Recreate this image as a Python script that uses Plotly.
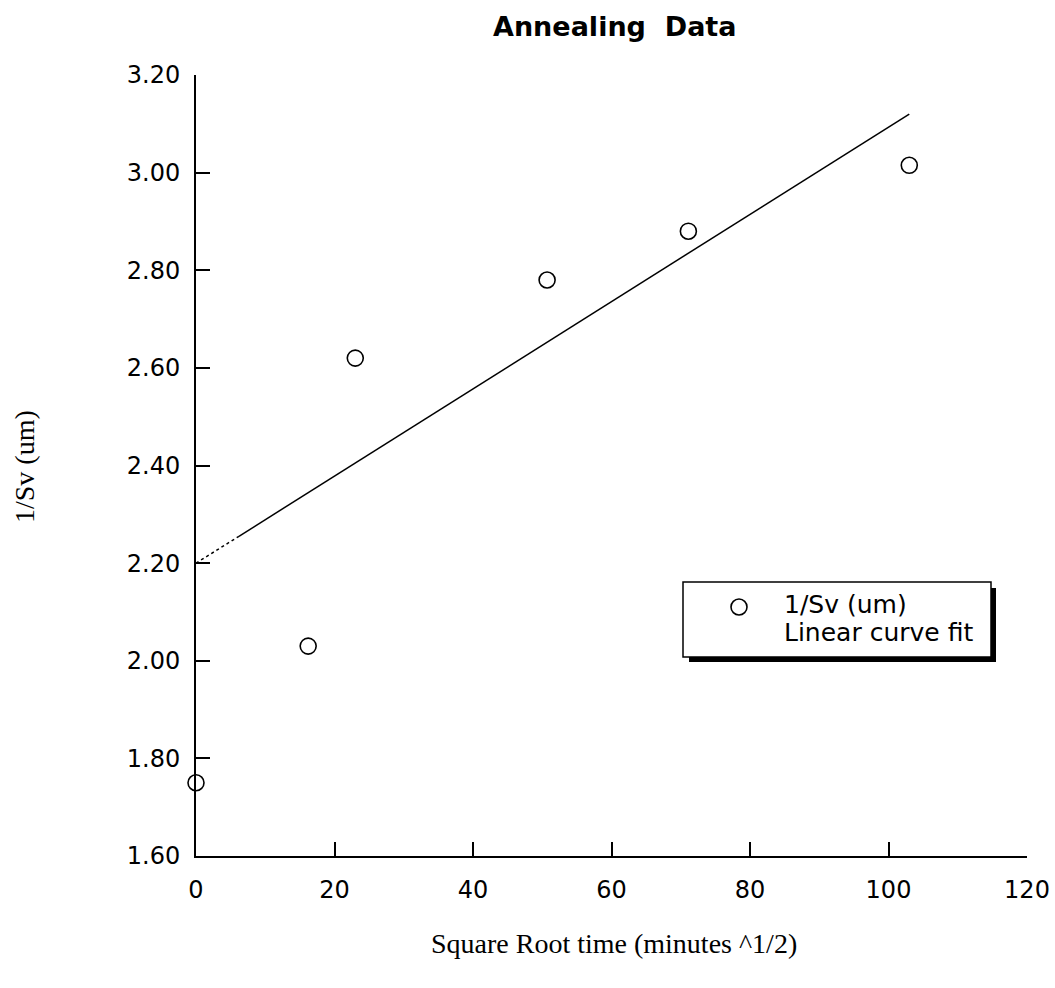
import plotly.graph_objects as go

# ---- data ----
sqrt_time = [0, 16.2, 23.0, 50.7, 71.1, 103.0]
inv_sv = [1.75, 2.03, 2.62, 2.78, 2.88, 3.015]

# linear curve fit line
fit_dot_x = [0, 6.2]
fit_dot_y = [2.20, 2.255]
fit_x = [6.2, 103.0]
fit_y = [2.255, 3.12]

x_ticks = [0, 20, 40, 60, 80, 100, 120]
y_ticks = [1.60, 1.80, 2.00, 2.20, 2.40, 2.60, 2.80, 3.00, 3.20]

title_text = "Annealing  Data"
x_title = "Square Root time (minutes ^1/2)"
y_title = "1/Sv (um)"
legend_labels = ["1/Sv (um)", "Linear curve fit"]

W, H = 1055, 988
L, R, T, B = 196, 28, 75, 132
PW, PH = W - L - R, H - T - B


def px(x):
    return (x - L) / PW


def py(y):
    return (H - B - y) / PH


SANS = "DejaVu Sans"
SERIF = "Liberation Serif"

fig = go.Figure()
fig.add_trace(go.Scatter(x=fit_dot_x, y=fit_dot_y, mode="lines",
                         line=dict(color="black", width=1.5, dash="dot"),
                         showlegend=False, hoverinfo="skip"))
fig.add_trace(go.Scatter(x=fit_x, y=fit_y, mode="lines",
                         line=dict(color="black", width=1.5),
                         showlegend=False, name=legend_labels[1]))
fig.add_trace(go.Scatter(x=sqrt_time, y=inv_sv, mode="markers",
                         marker=dict(symbol="circle-open", size=16,
                                     color="black", line=dict(width=1.6)),
                         cliponaxis=False, showlegend=False,
                         name=legend_labels[0]))

axis_common = dict(showgrid=False, zeroline=False, showline=True,
                   linecolor="black", linewidth=2, ticks="inside",
                   ticklen=14, tickwidth=1.5, tickcolor="black",
                   tickfont=dict(family=SANS, size=24, color="black"),
                   mirror=False, automargin=False)

fig.update_xaxes(range=[0, 120], tickvals=x_ticks,
                 ticktext=[str(v) for v in x_ticks],
                 ticklabelstandoff=11, **axis_common)
fig.update_yaxes(range=[1.6, 3.2], tickvals=y_ticks,
                 ticktext=[f"{v:.2f}" for v in y_ticks],
                 ticklabelstandoff=9, **axis_common)

shapes = [
    # legend shadow
    dict(type="rect", xref="paper", yref="paper",
         x0=px(689), x1=px(996), y0=py(662), y1=py(588),
         fillcolor="black", line=dict(width=0), layer="above"),
    # legend box
    dict(type="rect", xref="paper", yref="paper",
         x0=px(683), x1=px(991), y0=py(657), y1=py(582),
         fillcolor="white", line=dict(color="black", width=1.5), layer="above"),
    # legend marker
    dict(type="circle", xref="paper", yref="paper",
         x0=px(731), x1=px(747), y0=py(615), y1=py(599),
         fillcolor="white", line=dict(color="black", width=1.6), layer="above"),
]

annotations = [
    dict(text=f"<b>{title_text}</b>", xref="paper", yref="paper",
         x=px(615), y=py(26), xanchor="center", yanchor="middle",
         showarrow=False, font=dict(family=SANS, size=27, color="black")),
    dict(text=x_title, xref="paper", yref="paper",
         x=px(614), y=py(943), xanchor="center", yanchor="middle",
         showarrow=False, font=dict(family=SERIF, size=28, color="black")),
    dict(text=y_title, xref="paper", yref="paper", textangle=-90,
         x=px(24), y=py(467), xanchor="center", yanchor="middle",
         showarrow=False, font=dict(family=SERIF, size=28, color="black")),
    dict(text=legend_labels[0], xref="paper", yref="paper",
         x=px(782), y=py(604), xanchor="left", yanchor="middle",
         showarrow=False, font=dict(family=SANS, size=25, color="black")),
    dict(text=legend_labels[1], xref="paper", yref="paper",
         x=px(782), y=py(632), xanchor="left", yanchor="middle",
         showarrow=False, font=dict(family=SANS, size=25, color="black")),
]

fig.update_layout(width=W, height=H, autosize=False,
                  margin=dict(l=L, r=R, t=T, b=B, pad=0, autoexpand=False),
                  paper_bgcolor="white", plot_bgcolor="white",
                  showlegend=False, shapes=shapes, annotations=annotations)

fig.write_html("out.html",
               config={"displayModeBar": False, "responsive": False},
               post_script="document.body.style.margin='0';"
                           "document.body.style.overflow='hidden';")
